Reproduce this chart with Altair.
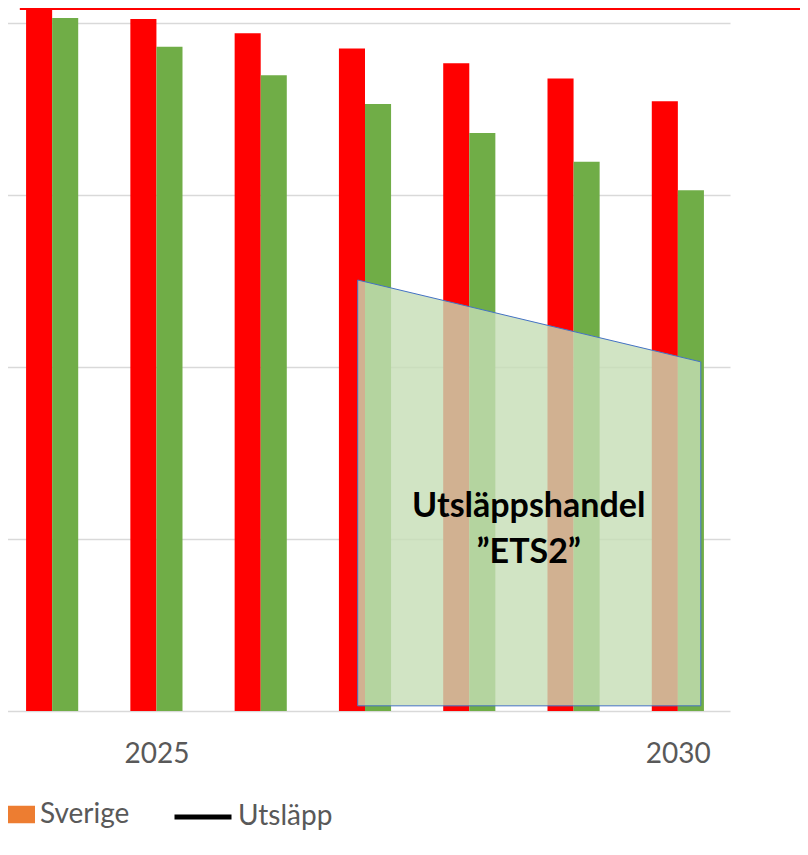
import altair as alt
import pandas as pd

# --- data -------------------------------------------------------------
years = [2024, 2025, 2026, 2027, 2028, 2029, 2030]
red_values = [20.52, 20.12, 19.70, 19.26, 18.83, 18.39, 17.73]
green_values = [20.15, 19.31, 18.48, 17.65, 16.80, 15.97, 15.14]
series_names = ["Utsläpp", "Mål"]
series_colors = ["#FF0000", "#70AD47"]

# ETS2 polygon (year position, lower, upper)
ets_x = [2026.93, 2030.22]
ets_low = [0.15, 0.15]
ets_high = [12.53, 10.15]
ets_label = "Utsläppshandel\n”ETS2”"

x_labels = [2025, 2030]
grid_values = [0, 5, 10, 15, 20]
legend_names = ["Sverige", "Utsläpp"]
legend_colors = ["#ED7D31", "#000000"]

FONT = "Lato"
GRAY = "#595959"

rows = []
for i, yr in enumerate(years):
    rows.append({"year": yr, "series": series_names[0], "value": red_values[i], "off0": -0.25, "off1": 0.0})
    rows.append({"year": yr, "series": series_names[1], "value": green_values[i], "off0": 0.0, "off1": 0.25})
bars_df = pd.DataFrame(rows)

x_scale = alt.Scale(domain=[2023.5, 2030.5], nice=False, zero=False, padding=0)
y_scale = alt.Scale(domain=[0, 20.67], nice=False, padding=0)

x_axis = alt.Axis(values=x_labels, format="d", labelFont=FONT, labelFontSize=28,
                  labelColor=GRAY, labelBaseline="alphabetic", labelPadding=51,
                  domain=False, ticks=False, grid=False, title=None)
y_axis = alt.Axis(values=grid_values, labels=False, ticks=False, domain=False,
                  grid=True, gridColor="#D9D9D9", gridWidth=1.3, title=None)

bars = alt.Chart(bars_df).transform_calculate(
    x0="datum.year + datum.off0", x1="datum.year + datum.off1"
).mark_bar().encode(
    x=alt.X("x0:Q", scale=x_scale, axis=x_axis),
    x2="x1:Q",
    y=alt.Y("value:Q", scale=y_scale, axis=y_axis),
    y2=alt.datum(0),
    color=alt.Color("series:N", scale=alt.Scale(domain=series_names, range=series_colors), legend=None),
)

ets_df = pd.DataFrame({"x": ets_x, "low": ets_low, "high": ets_high})
ets = alt.Chart(ets_df).mark_area(
    color="#C5DDB5", fillOpacity=0.8, stroke="#4472C4", strokeWidth=1
).encode(
    x=alt.X("x:Q", scale=x_scale, axis=x_axis),
    y=alt.Y("low:Q", scale=y_scale, axis=y_axis),
    y2="high:Q",
)

label = alt.Chart(pd.DataFrame({"t": [ets_label]})).mark_text(
    font=FONT, fontSize=34, fontWeight="bold", color="#000000",
    lineBreak="\n", lineHeight=46, align="center", baseline="alphabetic"
).encode(
    x=alt.datum(2028.57, scale=x_scale, axis=x_axis),
    y=alt.datum(5.64, scale=y_scale, axis=y_axis),
    text="t:N",
)

top_line = alt.Chart(pd.DataFrame({"a": [2023.69], "b": [2031.2], "v": [20.41]})).mark_rule(
    color="#FF0000", strokeWidth=2
).encode(
    x=alt.X("a:Q", scale=x_scale, axis=x_axis),
    x2="b:Q",
    y=alt.Y("v:Q", scale=y_scale, axis=y_axis),
)

leg_df = pd.DataFrame({"name": legend_names, "x": [2024, 2025], "v": [1, 2]})

leg_sverige = alt.Chart(leg_df).transform_filter("false").mark_bar().encode(
    x=alt.X("x:Q", scale=x_scale, axis=x_axis),
    y=alt.Y("v:Q", scale=y_scale, axis=y_axis),
    color=alt.Color("name:N",
                    scale=alt.Scale(domain=[legend_names[0]], range=[legend_colors[0]]),
                    legend=alt.Legend(orient="none", legendX=0, legendY=797, title=None,
                                      symbolType="M-1,-0.5H1V0.5H-1Z", symbolSize=1225,
                                      symbolStrokeWidth=0, labelOffset=5,
                                      labelFont=FONT, labelFontSize=28, labelColor=GRAY,
                                      padding=0, direction="horizontal")),
)

leg_utslapp = alt.Chart(leg_df).transform_filter("false").mark_line().encode(
    x=alt.X("x:Q", scale=x_scale, axis=x_axis),
    y=alt.Y("v:Q", scale=y_scale, axis=y_axis),
    color=alt.Color("name:N",
                    scale=alt.Scale(domain=[legend_names[1]], range=[legend_colors[1]]),
                    legend=alt.Legend(orient="none", legendX=172, legendY=786, title=None,
                                      symbolType="stroke", symbolSize=3249,
                                      symbolStrokeWidth=5, labelOffset=4,
                                      labelFont=FONT, labelFontSize=28, labelColor=GRAY,
                                      padding=0, direction="horizontal")),
)

chart = alt.layer(bars, ets, label, top_line, leg_sverige, leg_utslapp).resolve_scale(
    color="independent"
).properties(
    width=730, height=711,
    autosize=alt.AutoSizeParams(type="none"),
    padding={"left": -8, "top": -8, "right": 70, "bottom": 125},
).configure_view(stroke=None)

chart.save("out.html", embed_options={"renderer": "svg", "actions": False})
